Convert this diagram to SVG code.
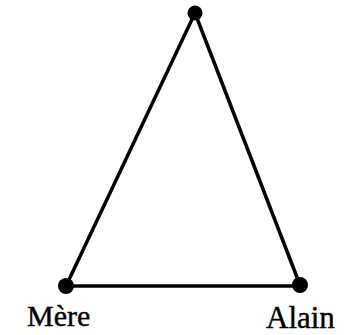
<svg xmlns="http://www.w3.org/2000/svg" width="358" height="335" viewBox="0 0 358 335">
<style>
.e{stroke:#000;stroke-width:3.5;fill:none;stroke-linecap:round}
.n{fill:#000}
.t{font-family:"Liberation Serif",serif;font-size:30px;fill:#000;stroke:#000;stroke-width:0.4}
</style>
<rect width="358" height="335" fill="#fff"/>
<g id="connectors">
<line class="e" x1="195" y1="13" x2="66" y2="286"/>
<line class="e" x1="195" y1="13" x2="300" y2="285"/>
<line class="e" x1="66" y1="286" x2="300" y2="286"/>
</g>
<g id="top"><circle class="n" cx="195" cy="13" r="7.5"/></g>
<g id="mere"><circle class="n" cx="66" cy="286" r="8"/><text class="t" x="27" y="326">Mère</text></g>
<g id="alain"><circle class="n" cx="300" cy="285" r="8"/><text class="t" x="266" y="328" style="font-size:31px">Alain</text></g>
</svg>
